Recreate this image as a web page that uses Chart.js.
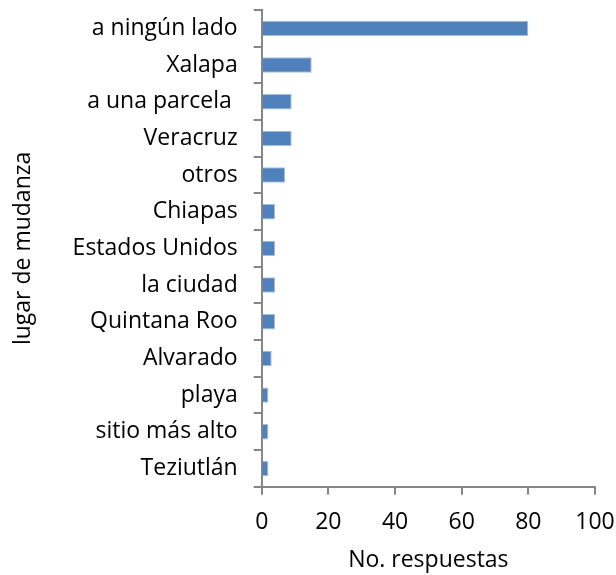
<!DOCTYPE html>
<html>
<head>
<meta charset="utf-8">
<script src="https://cdn.jsdelivr.net/npm/chart.js@4"></script>
<style>
  html, body { margin: 0; padding: 0; background: #fff; }
  #wrap { width: 616px; height: 575px; }
</style>
</head>
<body>
<div id="wrap"><canvas id="bar-chart"></canvas></div>
<script>
// lugar de mudanza (categories, top to bottom)
let lugares = ["a ningún lado", "Xalapa", "a una parcela ", "Veracruz", "otros", "Chiapas",
  "Estados Unidos", "la ciudad", "Quintana Roo", "Alvarado", "playa", "sitio más alto", "Teziutlán"];
// No. respuestas
let respuestas = [80, 15, 9, 9, 7, 4, 4, 4, 4, 3, 2, 2, 2];
let xTicks = [0, 20, 40, 60, 80, 100];

let axisGray = "#868686";
let fontFam = "'Open Sans', sans-serif";

new Chart(document.getElementById("bar-chart"), {
  type: 'bar',
  data: {
    labels: lugares,
    datasets: [{
      label: "No. respuestas",
      backgroundColor: "#4F81BD",
      borderColor: "#A7BFDE",
      borderWidth: 1,
      data: respuestas,
      categoryPercentage: 1,
      barPercentage: 0.42
    }]
  },
  options: {
    indexAxis: 'y',
    responsive: true,
    maintainAspectRatio: false,
    animation: false,
    layout: { padding: { top: 10, right: 21, left: 10, bottom: 1 } },
    plugins: {
      legend: { display: false },
      tooltip: { enabled: false }
    },
    scales: {
      x: {
        min: 0,
        max: 100,
        afterBuildTicks: function (axis) {
          axis.ticks = xTicks.map(v => ({ value: v }));
        },
        afterFit: function (axis) {
          axis.paddingLeft = 0;
          axis.paddingRight = 0;
        },
        grid: { drawOnChartArea: false, drawTicks: true, tickLength: 8, color: axisGray, lineWidth: 2 },
        border: { color: axisGray, width: 2 },
        ticks: { color: "#000", font: { family: fontFam, size: 23 }, padding: 14 },
        title: { display: true, text: "No. respuestas", color: "#000", font: { family: fontFam, size: 23 }, padding: { top: -4, bottom: 0 } }
      },
      y: {
        afterFit: function (axis) {
          axis.paddingTop = 0;
          axis.paddingBottom = 0;
        },
        grid: { offset: true, drawOnChartArea: false, drawTicks: true, tickLength: 8, color: axisGray, lineWidth: 2 },
        border: { color: axisGray, width: 2 },
        ticks: { color: "#000", font: { family: fontFam, size: 23 }, padding: 16, autoSkip: false },
        title: { display: true, text: "lugar de mudanza", color: "#000", font: { family: fontFam, size: 23 }, padding: { top: 0, bottom: 19 } }
      }
    }
  }
});
</script>
</body>
</html>
